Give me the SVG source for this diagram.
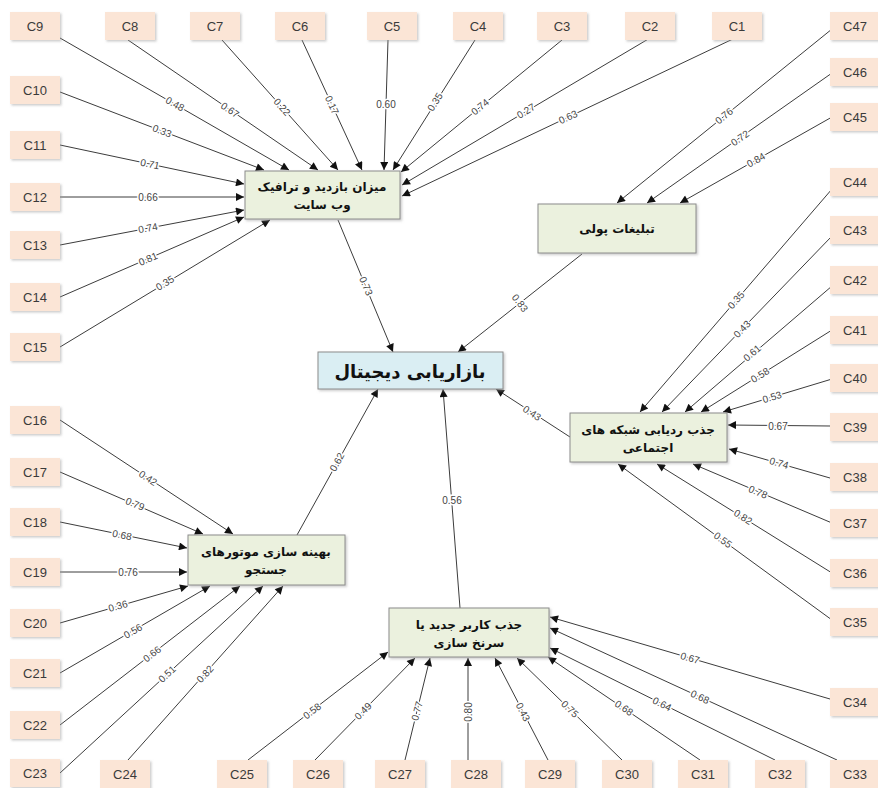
<svg xmlns="http://www.w3.org/2000/svg" width="878" height="788" viewBox="0 0 878 788">
<style>
.ind rect{fill:#fbe5d6;filter:url(#sh)}
.ind text{font-family:'Liberation Sans',Arial,sans-serif;font-size:13px;fill:#3a3a3a;text-anchor:middle;dominant-baseline:central}
.lat rect{fill:#ebf1de;stroke:#8c8c8c;stroke-width:1;filter:url(#sh)}
.ctr rect{fill:#daeef3;stroke:#8c8c8c;stroke-width:1;filter:url(#sh)}
.lat text,.ctr text{font-family:'DejaVu Sans','Noto Sans',sans-serif;font-weight:bold;font-size:12px;fill:#111;text-anchor:middle;dominant-baseline:central}
.ctr text{font-size:18px}
.c line{stroke:#3c3c3c;stroke-width:1;marker-end:url(#ah)}
.c text{font-family:'Liberation Sans',Arial,sans-serif;font-size:10px;fill:#444;text-anchor:middle;dominant-baseline:central;stroke:#fff;stroke-width:3;paint-order:stroke}
</style>
<defs>
<filter id="sh" x="-10%" y="-10%" width="130%" height="140%"><feDropShadow dx="1.5" dy="1.5" stdDeviation="1" flood-color="#999" flood-opacity="0.5"/></filter>
<marker id="ah" viewBox="0 0 10 10" refX="10" refY="5" markerWidth="11" markerHeight="8" markerUnits="userSpaceOnUse" orient="auto"><path d="M0,0 L10,5 L0,10 z" fill="#111"/></marker>
</defs>
<rect width="878" height="788" fill="#fff"/>

<g class="c" id="connectors">
<line x1="60" y1="38" x2="289" y2="170"/><text transform="translate(175,104) rotate(29)">0.48</text>
<line x1="128" y1="40" x2="318" y2="170"/><text transform="translate(230,110) rotate(34)">0.67</text>
<line x1="222" y1="40" x2="338" y2="170"/><text transform="translate(282,107) rotate(48)">0.22</text>
<line x1="302" y1="40" x2="362" y2="170"/><text transform="translate(332,105) rotate(65)">0.17</text>
<line x1="388" y1="40" x2="384" y2="170"/><text transform="translate(386,104)">0.60</text>
<line x1="475" y1="40" x2="393" y2="170"/><text transform="translate(435,102) rotate(-58)">0.35</text>
<line x1="562" y1="40" x2="401" y2="172"/><text transform="translate(480,107) rotate(-39)">0.74</text>
<line x1="650" y1="38" x2="402" y2="185"/><text transform="translate(526,111) rotate(-31)">0.27</text>
<line x1="735" y1="38" x2="402" y2="196"/><text transform="translate(568,117) rotate(-25)">0.63</text>
<line x1="60" y1="92" x2="264" y2="170"/><text transform="translate(162,131) rotate(21)">0.33</text>
<line x1="60" y1="145" x2="244" y2="184"/><text transform="translate(150,164) rotate(12)">0.71</text>
<line x1="60" y1="197" x2="244" y2="197"/><text transform="translate(148,197)">0.66</text>
<line x1="60" y1="245" x2="244" y2="210"/><text transform="translate(148,228) rotate(-11)">0.74</text>
<line x1="60" y1="297" x2="244" y2="217"/><text transform="translate(148,259) rotate(-23)">0.81</text>
<line x1="60" y1="347" x2="270" y2="220"/><text transform="translate(165,283) rotate(-31)">0.35</text>
<line x1="338" y1="220" x2="393" y2="352"/><text transform="translate(366,286) rotate(67)">0.73</text>

<line x1="832" y1="29" x2="617" y2="203"/><text transform="translate(724,116) rotate(-39)">0.76</text>
<line x1="832" y1="73" x2="647" y2="203"/><text transform="translate(740,138) rotate(-35)">0.72</text>
<line x1="832" y1="117" x2="680" y2="203"/><text transform="translate(756,160) rotate(-29.5)">0.84</text>
<line x1="582" y1="254" x2="458" y2="352"/><text transform="translate(520,303) rotate(52)">0.83</text>

<line x1="832" y1="189" x2="640" y2="412"/><text transform="translate(736,300) rotate(-49)">0.35</text>
<line x1="832" y1="236" x2="662" y2="412"/><text transform="translate(742,329) rotate(-46)">0.43</text>
<line x1="832" y1="286" x2="685" y2="412"/><text transform="translate(752,353) rotate(-40.6)">0.61</text>
<line x1="832" y1="330" x2="701" y2="412"/><text transform="translate(760,375) rotate(-32)">0.58</text>
<line x1="832" y1="379" x2="723" y2="412"/><text transform="translate(772,397) rotate(-17)">0.53</text>
<line x1="830" y1="426" x2="728" y2="425"/><text transform="translate(778,426)">0.67</text>
<line x1="830" y1="478" x2="729" y2="449"/><text transform="translate(779,463) rotate(16)">0.74</text>
<line x1="832" y1="523" x2="693" y2="464"/><text transform="translate(758,492) rotate(23)">0.78</text>
<line x1="832" y1="573" x2="657" y2="464"/><text transform="translate(743,517) rotate(32)">0.82</text>
<line x1="832" y1="620" x2="618" y2="464"/><text transform="translate(723,540) rotate(36)">0.55</text>
<line x1="570" y1="437" x2="496" y2="389"/><text transform="translate(532,413) rotate(33)">0.43</text>

<line x1="60" y1="420" x2="233" y2="534"/><text transform="translate(148,478) rotate(33)">0.42</text>
<line x1="60" y1="472" x2="203" y2="534"/><text transform="translate(135,504) rotate(23)">0.79</text>
<line x1="60" y1="522" x2="187" y2="548"/><text transform="translate(122,535) rotate(11.6)">0.68</text>
<line x1="60" y1="572" x2="187" y2="572"/><text transform="translate(128,572)">0.76</text>
<line x1="60" y1="623" x2="188" y2="586"/><text transform="translate(118,606) rotate(-16)">0.36</text>
<line x1="60" y1="673" x2="210" y2="586"/><text transform="translate(133,631) rotate(-30)">0.56</text>
<line x1="60" y1="725" x2="240" y2="586"/><text transform="translate(152,654) rotate(-37.7)">0.66</text>
<line x1="60" y1="773" x2="263" y2="586"/><text transform="translate(167,674) rotate(-42.6)">0.51</text>
<line x1="128" y1="760" x2="283" y2="586"/><text transform="translate(205,674) rotate(-48)">0.82</text>
<line x1="297" y1="535" x2="378" y2="389"/><text transform="translate(337,462) rotate(-61)">0.62</text>

<line x1="248" y1="760" x2="388" y2="652"/><text transform="translate(312,711) rotate(-37.6)">0.58</text>
<line x1="315" y1="760" x2="415" y2="658"/><text transform="translate(363,711) rotate(-45.6)">0.49</text>
<line x1="405" y1="760" x2="430" y2="658"/><text transform="translate(417,711) rotate(-76)">0.77</text>
<line x1="468" y1="760" x2="468" y2="658"/><text transform="translate(468,712) rotate(-90)">0.80</text>
<line x1="548" y1="760" x2="495" y2="658"/><text transform="translate(523,712) rotate(62.5)">0.43</text>
<line x1="622" y1="760" x2="517" y2="658"/><text transform="translate(570,709) rotate(44)">0.75</text>
<line x1="700" y1="760" x2="548" y2="657"/><text transform="translate(624,708) rotate(34)">0.68</text>
<line x1="775" y1="760" x2="550" y2="648"/><text transform="translate(662,704) rotate(26.5)">0.64</text>
<line x1="837" y1="760" x2="550" y2="628"/><text transform="translate(700,697) rotate(24.7)">0.68</text>
<line x1="830" y1="699" x2="550" y2="617"/><text transform="translate(690,658) rotate(16.3)">0.67</text>
<line x1="460" y1="608" x2="443" y2="389"/><text transform="translate(452,500)">0.56</text>
</g>

<g id="m1" class="lat"><rect x="245" y="171" width="155" height="48"/><text x="322" y="187">میزان بازدید و ترافیک</text><text x="322" y="205">وب سایت</text></g>
<g id="m2" class="lat"><rect x="538" y="204" width="158" height="49"/><text x="617" y="229">تبلیغات پولی</text></g>
<g id="center" class="ctr"><rect x="318" y="352" width="185" height="37"/><text x="410" y="371">بازاریابی دیجیتال</text></g>
<g id="m4" class="lat"><rect x="570" y="413" width="157" height="49"/><text x="648" y="430">جذب ردیابی شبکه های</text><text x="648" y="448">اجتماعی</text></g>
<g id="m5" class="lat"><rect x="188" y="535" width="157" height="50"/><text x="266" y="552">بهینه سازی موتورهای</text><text x="266" y="570">جستجو</text></g>
<g id="m6" class="lat"><rect x="389" y="608" width="160" height="49"/><text x="469" y="625">جذب کاربر جدید یا</text><text x="469" y="643">سرنخ سازی</text></g>

<g id="C9" class="ind"><rect x="10" y="12" width="50" height="28"/><text x="35" y="26">C9</text></g>
<g id="C8" class="ind"><rect x="105" y="12" width="50" height="28"/><text x="130" y="26">C8</text></g>
<g id="C7" class="ind"><rect x="190" y="12" width="50" height="28"/><text x="215" y="26">C7</text></g>
<g id="C6" class="ind"><rect x="275" y="12" width="50" height="28"/><text x="300" y="26">C6</text></g>
<g id="C5" class="ind"><rect x="367" y="12" width="50" height="28"/><text x="392" y="26">C5</text></g>
<g id="C4" class="ind"><rect x="453" y="12" width="50" height="28"/><text x="478" y="26">C4</text></g>
<g id="C3" class="ind"><rect x="537" y="12" width="50" height="28"/><text x="562" y="26">C3</text></g>
<g id="C2" class="ind"><rect x="625" y="12" width="50" height="28"/><text x="650" y="26">C2</text></g>
<g id="C1" class="ind"><rect x="712" y="12" width="50" height="28"/><text x="737" y="26">C1</text></g>
<g id="C47" class="ind"><rect x="830" y="12" width="50" height="28"/><text x="855" y="26">C47</text></g>

<g id="C10" class="ind"><rect x="10" y="76" width="50" height="28"/><text x="35" y="90">C10</text></g>
<g id="C11" class="ind"><rect x="10" y="131" width="50" height="28"/><text x="35" y="145">C11</text></g>
<g id="C12" class="ind"><rect x="10" y="183" width="50" height="28"/><text x="35" y="197">C12</text></g>
<g id="C13" class="ind"><rect x="10" y="231" width="50" height="28"/><text x="35" y="245">C13</text></g>
<g id="C14" class="ind"><rect x="10" y="283" width="50" height="28"/><text x="35" y="297">C14</text></g>
<g id="C15" class="ind"><rect x="10" y="333" width="50" height="28"/><text x="35" y="347">C15</text></g>
<g id="C16" class="ind"><rect x="10" y="406" width="50" height="28"/><text x="35" y="420">C16</text></g>
<g id="C17" class="ind"><rect x="10" y="458" width="50" height="28"/><text x="35" y="472">C17</text></g>
<g id="C18" class="ind"><rect x="10" y="508" width="50" height="28"/><text x="35" y="522">C18</text></g>
<g id="C19" class="ind"><rect x="10" y="558" width="50" height="28"/><text x="35" y="572">C19</text></g>
<g id="C20" class="ind"><rect x="10" y="609" width="50" height="28"/><text x="35" y="623">C20</text></g>
<g id="C21" class="ind"><rect x="10" y="659" width="50" height="28"/><text x="35" y="673">C21</text></g>
<g id="C22" class="ind"><rect x="10" y="711" width="50" height="28"/><text x="35" y="725">C22</text></g>
<g id="C23" class="ind"><rect x="10" y="759" width="50" height="28"/><text x="35" y="773">C23</text></g>

<g id="C24" class="ind"><rect x="100" y="760" width="50" height="28"/><text x="125" y="774">C24</text></g>
<g id="C25" class="ind"><rect x="217" y="760" width="50" height="28"/><text x="242" y="774">C25</text></g>
<g id="C26" class="ind"><rect x="293" y="760" width="50" height="28"/><text x="318" y="774">C26</text></g>
<g id="C27" class="ind"><rect x="375" y="760" width="50" height="28"/><text x="400" y="774">C27</text></g>
<g id="C28" class="ind"><rect x="451" y="760" width="50" height="28"/><text x="476" y="774">C28</text></g>
<g id="C29" class="ind"><rect x="525" y="760" width="50" height="28"/><text x="550" y="774">C29</text></g>
<g id="C30" class="ind"><rect x="602" y="760" width="50" height="28"/><text x="627" y="774">C30</text></g>
<g id="C31" class="ind"><rect x="678" y="760" width="50" height="28"/><text x="703" y="774">C31</text></g>
<g id="C32" class="ind"><rect x="755" y="760" width="50" height="28"/><text x="780" y="774">C32</text></g>
<g id="C33" class="ind"><rect x="830" y="760" width="50" height="28"/><text x="855" y="774">C33</text></g>

<g id="C46" class="ind"><rect x="830" y="58" width="50" height="28"/><text x="855" y="72">C46</text></g>
<g id="C45" class="ind"><rect x="830" y="103" width="50" height="28"/><text x="855" y="117">C45</text></g>
<g id="C44" class="ind"><rect x="830" y="168" width="50" height="28"/><text x="855" y="182">C44</text></g>
<g id="C43" class="ind"><rect x="830" y="216" width="50" height="28"/><text x="855" y="230">C43</text></g>
<g id="C42" class="ind"><rect x="830" y="266" width="50" height="28"/><text x="855" y="280">C42</text></g>
<g id="C41" class="ind"><rect x="830" y="316" width="50" height="28"/><text x="855" y="330">C41</text></g>
<g id="C40" class="ind"><rect x="830" y="364" width="50" height="28"/><text x="855" y="378">C40</text></g>
<g id="C39" class="ind"><rect x="830" y="413" width="50" height="28"/><text x="855" y="427">C39</text></g>
<g id="C38" class="ind"><rect x="830" y="463" width="50" height="28"/><text x="855" y="477">C38</text></g>
<g id="C37" class="ind"><rect x="830" y="509" width="50" height="28"/><text x="855" y="523">C37</text></g>
<g id="C36" class="ind"><rect x="830" y="559" width="50" height="28"/><text x="855" y="573">C36</text></g>
<g id="C35" class="ind"><rect x="830" y="608" width="50" height="28"/><text x="855" y="622">C35</text></g>
<g id="C34" class="ind"><rect x="830" y="688" width="50" height="28"/><text x="855" y="702">C34</text></g>
</svg>
